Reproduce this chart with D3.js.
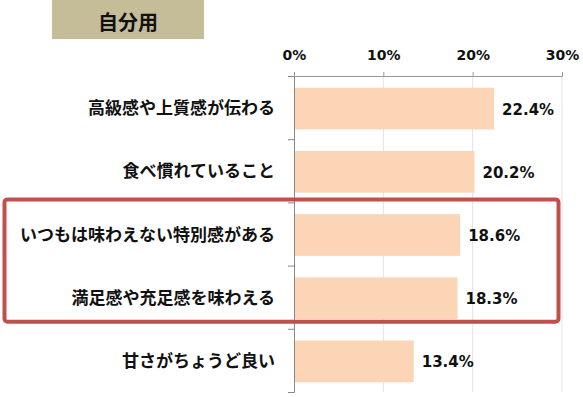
<!DOCTYPE html>
<html>
<head>
<meta charset="utf-8">
<script src="https://cdn.jsdelivr.net/npm/d3@7"></script>
<style>
  body { margin: 0; background: #fff; }
  svg { display: block; }
</style>
</head>
<body>
<svg id="chart"></svg>
<script>
// data
const title = "自分用";
const categories = [
  "高級感や上質感が伝わる",
  "食べ慣れていること",
  "いつもは味わえない特別感がある",
  "満足感や充足感を味わえる",
  "甘さがちょうど良い"
];
const values = [22.4, 20.2, 18.6, 18.3, 13.4];
const tickValues = [0, 10, 20, 30];
const highlighted = [2, 3]; // rows inside the red box

const W = 583, H = 397;
const svg = d3.select("#chart")
    .attr("width", W)
    .attr("height", H);

const x = d3.scaleLinear()
    .domain([0, 30])
    .range([294, 562]);

const y = d3.scaleBand()
    .domain(categories)
    .range([76, 392]);

// boundaries between rows, for the left ticks
const rowEdge = d3.scaleLinear()
    .domain([0, categories.length])
    .range([76, 392]);

const barH = y.bandwidth() * 0.66;

// title box
svg.append("rect")
    .attr("x", 52)
    .attr("y", 0)
    .attr("width", 152)
    .attr("height", 39)
    .attr("fill", "#c4bd97");

svg.append("text")
    .attr("x", 128)
    .attr("y", 21)
    .attr("text-anchor", "middle")
    .attr("dominant-baseline", "central")
    .attr("font-family", "'Noto Sans CJK JP', sans-serif")
    .attr("font-weight", "bold")
    .attr("font-size", 20)
    .attr("fill", "#111")
    .text(title);

// grid lines
svg.selectAll(".grid")
    .data(tickValues.filter(d => d > 0))
    .enter()
    .append("line")
    .attr("x1", d => x(d))
    .attr("x2", d => x(d))
    .attr("y1", 76)
    .attr("y2", 392)
    .attr("stroke", "#e3e3e3")
    .attr("stroke-width", 1);

// bars
svg.selectAll(".bar")
    .data(values)
    .enter()
    .append("rect")
    .attr("x", x(0))
    .attr("y", (d, i) => y(categories[i]) + (y.bandwidth() - barH) / 2 + 1)
    .attr("width", d => x(d) - x(0))
    .attr("height", barH)
    .attr("fill", "#fbd5b5");

// top axis
const topAxis = svg.append("g")
    .attr("transform", "translate(0,76)")
    .call(d3.axisTop(x)
        .tickValues(tickValues)
        .tickFormat(d => d + "%")
        .tickSize(4)
        .tickPadding(12));

topAxis.select(".domain").attr("stroke", "#999");
topAxis.selectAll(".tick line").attr("stroke", "#999");
topAxis.selectAll(".tick text")
    .attr("font-family", "'DejaVu Sans', Verdana, sans-serif")
    .attr("font-weight", "bold")
    .attr("font-size", 14)
    .attr("fill", "#111");

// left axis with ticks on the row edges
const leftAxis = svg.append("g")
    .attr("transform", `translate(${x(0)},0)`)
    .call(d3.axisLeft(rowEdge)
        .ticks(categories.length)
        .tickSize(6)
        .tickFormat(""));

leftAxis.select(".domain").attr("stroke", "#888");
leftAxis.selectAll(".tick line").attr("stroke", "#888");

// category labels
svg.selectAll(".cat")
    .data(categories)
    .enter()
    .append("text")
    .attr("x", 275)
    .attr("y", d => y(d) + y.bandwidth() / 2 - 1)
    .attr("text-anchor", "end")
    .attr("dominant-baseline", "central")
    .attr("font-family", "'Noto Sans CJK JP', sans-serif")
    .attr("font-weight", "bold")
    .attr("font-size", 17)
    .attr("fill", "#111")
    .text(d => d);

// value labels
svg.selectAll(".val")
    .data(values)
    .enter()
    .append("text")
    .attr("x", d => x(d) + 8)
    .attr("y", (d, i) => y(categories[i]) + y.bandwidth() / 2 + 2)
    .attr("dominant-baseline", "central")
    .attr("font-family", "'DejaVu Sans', Verdana, sans-serif")
    .attr("font-weight", "bold")
    .attr("font-size", 15)
    .attr("fill", "#111")
    .text(d => d.toFixed(1) + "%");

// red highlight box around rows
const first = categories[highlighted[0]];
const last = categories[highlighted[highlighted.length - 1]];
svg.append("rect")
    .attr("x", 4.5)
    .attr("y", y(first) - 3)
    .attr("width", 554)
    .attr("height", y(last) + y.bandwidth() - y(first) - 4)
    .attr("rx", 3)
    .attr("fill", "none")
    .attr("stroke", "#c0504d")
    .attr("stroke-width", 4);
</script>
</body>
</html>
